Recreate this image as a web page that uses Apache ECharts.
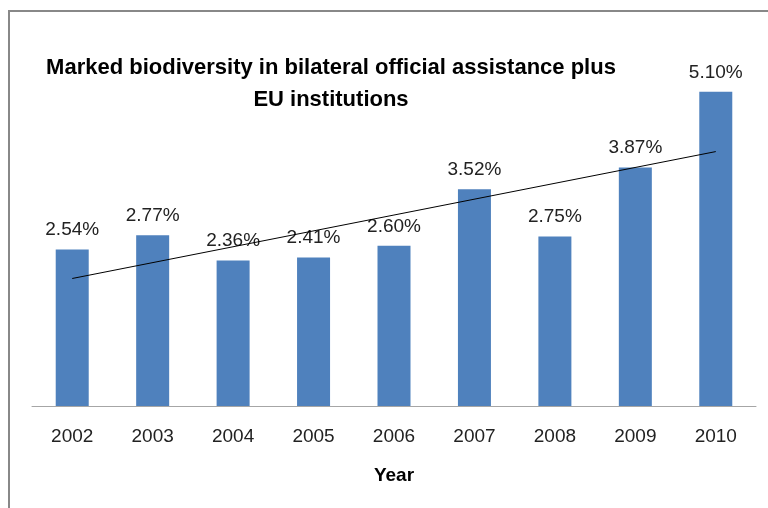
<!DOCTYPE html>
<html>
<head>
<meta charset="utf-8">
<script src="https://cdn.jsdelivr.net/npm/echarts@6/dist/echarts.min.js"></script>
<style>
  html, body { margin: 0; padding: 0; background: #fff; }
  #main { width: 768px; height: 508px; }
</style>
</head>
<body>
<div id="main"></div>
<script>
var years = ['2002', '2003', '2004', '2005', '2006', '2007', '2008', '2009', '2010'];
var shares = [2.54, 2.77, 2.36, 2.41, 2.60, 3.52, 2.75, 3.87, 5.10];
// trend line end points (2002 and 2010)
var trendEnds = [2.07, 4.13];

var trend = years.map(function (y, i) {
  if (i === 0) return trendEnds[0];
  if (i === years.length - 1) return trendEnds[1];
  return null;
});

var chart = echarts.init(document.getElementById('main'));

option = {
  animation: false,
  title: {
    text: 'Marked biodiversity in bilateral official assistance plus\nEU institutions',
    left: 331,
    top: 52,
    padding: 0,
    textAlign: 'center',
    textStyle: {
      fontFamily: 'Liberation Sans',
      fontSize: 22,
      fontWeight: 'bold',
      color: '#000',
      lineHeight: 32
    }
  },
  graphic: [
    {
      type: 'rect',
      shape: { x: 9, y: 11, width: 800, height: 600 },
      style: { fill: 'none', stroke: '#888', lineWidth: 2 },
      silent: true
    }
  ],
  grid: { left: 32, right: 12, top: 36.4, bottom: 102 },
  xAxis: {
    type: 'category',
    data: years,
    name: 'Year',
    nameLocation: 'middle',
    nameGap: 60,
    nameTextStyle: { fontFamily: 'Liberation Sans', fontSize: 19, fontWeight: 'bold', color: '#000' },
    axisLine: { lineStyle: { color: '#a6a6a6', width: 1 } },
    axisTick: { show: false },
    axisLabel: { margin: 21, fontFamily: 'Liberation Sans', fontSize: 19, color: '#222' }
  },
  yAxis: {
    type: 'value',
    min: 0,
    max: 6,
    show: false
  },
  series: [
    {
      type: 'bar',
      data: shares,
      barWidth: 33,
      itemStyle: { color: '#4f81bd' },
      label: {
        show: true,
        position: 'top',
        distance: 10,
        fontFamily: 'Liberation Sans',
        fontSize: 19,
        color: '#222',
        formatter: function (p) { return p.value.toFixed(2) + '%'; }
      }
    },
    {
      type: 'line',
      data: trend,
      connectNulls: true,
      symbol: 'none',
      lineStyle: { color: '#000', width: 1 },
      z: 5
    }
  ]
};

chart.setOption(option);
</script>
</body>
</html>
